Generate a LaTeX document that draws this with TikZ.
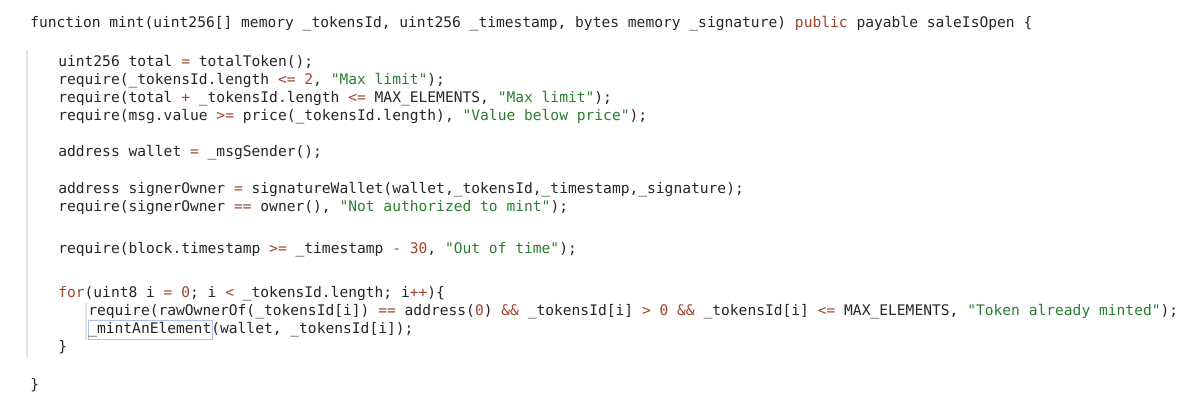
\documentclass[tikz,border=0pt]{standalone}
\usepackage{fontspec}
\setmonofont{DejaVu Sans Mono}
\definecolor{strc}{HTML}{2E7D32}
\definecolor{kwc}{HTML}{A0452D}
\definecolor{guide}{HTML}{E2E2E2}
\definecolor{boxc}{HTML}{A9C4E8}
\newcommand{\strg}[1]{\textcolor{strc}{#1}}
\newcommand{\kw}[1]{\textcolor{kwc}{#1}}
\begin{document}
\begin{tikzpicture}[x=0.75pt,y=-0.75pt,
  code/.style={anchor=base west,inner sep=0pt,font=\ttfamily\fontsize{10.95pt}{14pt}\selectfont,text=black!85}]
\fill[white] (0,0) rectangle (1200,411);
\useasboundingbox (0,0) rectangle (1200,411);
\draw[guide,line width=0.8pt] (27,50) -- (27,357);
\draw[guide,line width=0.8pt] (86,303) -- (86,340);
\draw[boxc,line width=0.6pt] (88,320) rectangle (212,339);
\def\ind{58}\def\indd{88}
\node[code] (l1) at (30,27) {function mint(uint256[] memory \_tokensId, uint256 \_timestamp, bytes memory \_signature) \kw{public} payable saleIsOpen \{};
\node[code] (l2) at (\ind,66) {uint256 total \kw{=} totalToken();};
\node[code] (l3) at (\ind,84) {require(\_tokensId.length \kw{<=} \kw{2}, \strg{"Max limit"});};
\node[code] (l4) at (\ind,102) {require(total \kw{+} \_tokensId.length \kw{<=} MAX\_ELEMENTS, \strg{"Max limit"});};
\node[code] (l5) at (\ind,120) {require(msg.value \kw{>=} price(\_tokensId.length), \strg{"Value below price"});};
\node[code] (l6) at (\ind,156) {address wallet \kw{=} \_msgSender();};
\node[code] (l7) at (\ind,193) {address signerOwner \kw{=} signatureWallet(wallet,\_tokensId,\_timestamp,\_signature);};
\node[code] (l8) at (\ind,211) {require(signerOwner \kw{==} owner(), \strg{"Not authorized to mint"});};
\node[code] (l9) at (\ind,253) {require(block.timestamp \kw{>=} \_timestamp \kw{-} \kw{30}, \strg{"Out of time"});};
\node[code] (l10) at (\ind,297) {\kw{for}(uint8 i \kw{=} \kw{0}; i \kw{<} \_tokensId.length; i\kw{++})\{};
\node[code] (l11) at (\indd,315) {require(rawOwnerOf(\_tokensId[i]) \kw{==} address(\kw{0}) \kw{\&\&} \_tokensId[i] \kw{>} \kw{0} \kw{\&\&} \_tokensId[i] \kw{<=} MAX\_ELEMENTS, \strg{"Token already minted"});};
\node[code] (l12) at (\indd,333) {\_mintAnElement(wallet, \_tokensId[i]);};
\node[code] (l13) at (\ind,351) {\}};
\node[code] (l14) at (30,389) {\}};
\end{tikzpicture}
\end{document}
